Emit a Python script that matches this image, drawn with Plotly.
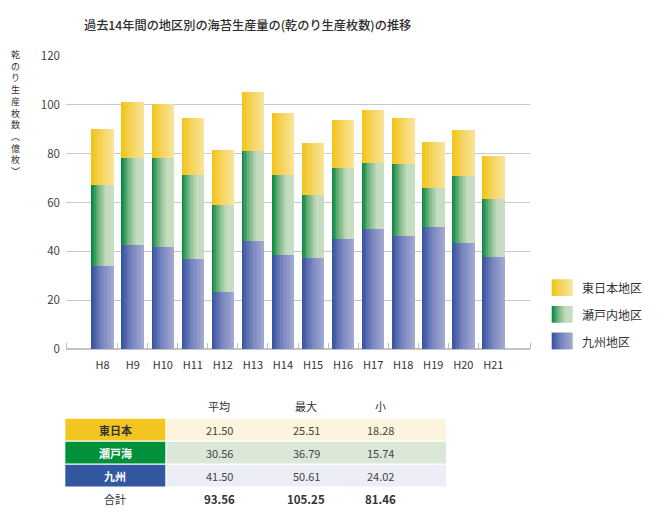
import plotly.graph_objects as go

# ---------------- data ----------------
categories = ["H8", "H9", "H10", "H11", "H12", "H13", "H14", "H15", "H16", "H17", "H18", "H19", "H20", "H21"]
kyushu = [33.9, 42.7, 41.6, 36.8, 23.4, 44.2, 38.7, 37.4, 45.1, 49.2, 46.4, 50.0, 43.6, 37.6]
setonaikai = [33.2, 35.4, 36.8, 34.5, 35.6, 36.8, 32.5, 25.7, 29.2, 27.1, 29.4, 16.0, 27.2, 24.0]
higashinihon = [23.0, 22.9, 21.9, 23.5, 22.5, 24.2, 25.5, 21.2, 19.6, 21.6, 18.7, 18.8, 18.9, 17.5]
series_names = ["東日本地区", "瀬戸内地区", "九州地区"]

table_rows = ["東日本", "瀬戸海", "九州"]
table_total_label = "合計"
table_avg = ["21.50", "30.56", "41.50"]
table_max = ["25.51", "36.79", "50.61"]
table_min = ["18.28", "15.74", "24.02"]
table_total = ["93.56", "105.25", "81.46"]
table_head = ["平均", "最大", "小"]

# ---------------- styling ----------------
FONT = "Noto Sans CJK JP"
OFF = 8                      # page body margin of the html page
W, H = 670 - OFF, 520 - OFF


def px(x):
    return (x - OFF) / W


def py(y):
    return 1 - (y - OFF) / H


grad_yellow = [(0, "#F2C312"), (0.45, "#F5D45E"), (1, "#F9E499")]
grad_green = [(0, "#00853A"), (0.3, "#6FB27F"), (0.65, "#C3DBBE"), (1, "#C8DEC4")]
grad_blue = [(0, "#32509E"), (0.45, "#7784BE"), (1, "#A4AAD3")]


def hex2rgb(h):
    h = h.lstrip("#")
    return tuple(int(h[i:i + 2], 16) for i in (0, 2, 4))


def interp(stops, t):
    for (t0, c0), (t1, c1) in zip(stops, stops[1:]):
        if t0 <= t <= t1:
            f = (t - t0) / (t1 - t0) if t1 > t0 else 0
            a, b = hex2rgb(c0), hex2rgb(c1)
            return "rgb(%d,%d,%d)" % tuple(round(a[k] + (b[k] - a[k]) * f) for k in range(3))
    return stops[-1][1]


xs = list(range(len(categories)))
bar_w = 0.75
N = 16

fig = go.Figure()

base_green = kyushu
base_yellow = [a + b for a, b in zip(kyushu, setonaikai)]
segments = [
    (kyushu, [0] * len(kyushu), grad_blue),
    (setonaikai, base_green, grad_green),
    (higashinihon, base_yellow, grad_yellow),
]
for vals, bases, grad in segments:
    for i in range(N):
        t = (i + 0.5) / N
        sw = bar_w / N
        fig.add_trace(go.Bar(
            x=xs, y=vals, base=bases,
            width=sw * (1.6 if i < N - 1 else 1.0),
            offset=-bar_w / 2 + i * sw,
            marker=dict(color=interp(grad, t), line=dict(width=0)),
            showlegend=False, hoverinfo="skip",
        ))

# ---------------- layout / axes ----------------
minor_vals = [-1.22] + [i + 0.5 for i in xs[:-1]] + [14.22]

fig.update_layout(
    width=W, height=H,
    margin=dict(l=0, r=0, t=0, b=0, autoexpand=False),
    paper_bgcolor="white", plot_bgcolor="white",
    barmode="overlay", bargap=0, showlegend=False,
    font=dict(family=FONT, color="#333"),
    xaxis=dict(
        domain=[px(66), px(530)], range=[-1.22, 14.22], automargin=False,
        tickmode="array", tickvals=xs, ticktext=categories,
        showgrid=False, zeroline=False, showline=False, ticks="",
        tickfont=dict(size=11, color="#333", family=FONT),
        ticklabelstandoff=8,
        minor=dict(tickmode="array", tickvals=minor_vals, ticks="inside", ticklen=6,
                   tickcolor="#BDBDBD", tickwidth=1, showgrid=False),
    ),
    yaxis=dict(
        domain=[py(349), py(56)], range=[0, 120], dtick=20, automargin=False,
        showgrid=True, gridcolor="#C9C9C9", gridwidth=1.3,
        zeroline=True, zerolinecolor="#C4C4C4", zerolinewidth=1.5,
        ticks="", tickfont=dict(size=11.5, color="#444", family=FONT),
        ticklabelstandoff=5,
    ),
)

annotations = []
shapes = []

# title
annotations.append(dict(
    text="過去14年間の地区別の海苔生産量の(乾のり生産枚数)の推移",
    x=px(247), y=py(25), xref="paper", yref="paper",
    xanchor="center", yanchor="middle", showarrow=False,
    font=dict(size=12.2, color="#2E2E2E", family=FONT, weight=500)))

# vertical y-axis title
ytitle = ["乾", "の", "り", "生", "産", "枚", "数", "︵", "億", "枚", "︶"]
annotations.append(dict(
    text="<br>".join(ytitle), x=px(15), y=py(113), xref="paper", yref="paper",
    xanchor="center", yanchor="middle", showarrow=False, align="center",
    font=dict(size=9, color="#333", family=FONT)))

# custom legend with gradient swatches
legend_items = [(series_names[0], grad_yellow, 287.7),
                (series_names[1], grad_green, 314.3),
                (series_names[2], grad_blue, 341.0)]
sw_x0, sw_x1, sw_h = 551.7, 572.7, 16.7
NS = 14
for name, grad, yc in legend_items:
    step = (sw_x1 - sw_x0) / NS
    for i in range(NS):
        t = (i + 0.5) / NS
        shapes.append(dict(
            type="rect", xref="paper", yref="paper",
            x0=px(sw_x0 + i * step), x1=px(sw_x0 + (i + 1.5 if i < NS - 1 else i + 1) * step),
            y0=py(yc + sw_h / 2), y1=py(yc - sw_h / 2),
            fillcolor=interp(grad, t), line=dict(width=0), layer="above"))
    annotations.append(dict(
        text=name, x=px(580), y=py(yc), xref="paper", yref="paper",
        xanchor="left", yanchor="middle", showarrow=False,
        font=dict(size=12, color="#333", family=FONT)))

# ---------------- table (below the chart) ----------------
lab_fill = ["#F2C521", "#00913A", "#3457A1"]
val_fill = ["#FCF4DC", "#DBE7D7", "#ECEDF5"]
lab_font = ["#333", "white", "white"]
col_x = [219.5, 306, 380.5]
lab_x0, lab_x1, val_x0, val_x1 = 65.3, 165.3, 166.7, 446
row_top0, row_pitch, row_h = 418.7, 23.0, 21.7

for j, htxt in enumerate(table_head):
    annotations.append(dict(
        text=htxt, x=px(col_x[j]), y=py(405.7), xref="paper", yref="paper",
        xanchor="center", yanchor="middle", showarrow=False,
        font=dict(size=11, color="#333", family=FONT)))

columns = [table_avg, table_max, table_min]
for r, lab in enumerate(table_rows):
    y0 = row_top0 + r * row_pitch
    y1 = y0 + row_h
    yc = (y0 + y1) / 2
    shapes.append(dict(type="rect", xref="paper", yref="paper",
                       x0=px(lab_x0), x1=px(lab_x1), y0=py(y1), y1=py(y0),
                       fillcolor=lab_fill[r], line=dict(width=0)))
    shapes.append(dict(type="rect", xref="paper", yref="paper",
                       x0=px(val_x0), x1=px(val_x1), y0=py(y1), y1=py(y0),
                       fillcolor=val_fill[r], line=dict(width=0)))
    annotations.append(dict(
        text="<b>%s</b>" % lab, x=px((lab_x0 + lab_x1) / 2), y=py(yc), xref="paper", yref="paper",
        xanchor="center", yanchor="middle", showarrow=False,
        font=dict(size=11, color=lab_font[r], family=FONT)))
    for j, col in enumerate(columns):
        annotations.append(dict(
            text=col[r], x=px(col_x[j]), y=py(yc), xref="paper", yref="paper",
            xanchor="center", yanchor="middle", showarrow=False,
            font=dict(size=11, color="#444", family=FONT)))

annotations.append(dict(
    text=table_total_label, x=px((lab_x0 + lab_x1) / 2), y=py(499.3), xref="paper", yref="paper",
    xanchor="center", yanchor="middle", showarrow=False,
    font=dict(size=11, color="#333", family=FONT)))
for j, v in enumerate(table_total):
    annotations.append(dict(
        text="<b>%s</b>" % v, x=px(col_x[j]), y=py(499.3), xref="paper", yref="paper",
        xanchor="center", yanchor="middle", showarrow=False,
        font=dict(size=11.5, color="#333", family=FONT)))

fig.update_layout(annotations=annotations, shapes=shapes)

fig.write_html("out.html")
